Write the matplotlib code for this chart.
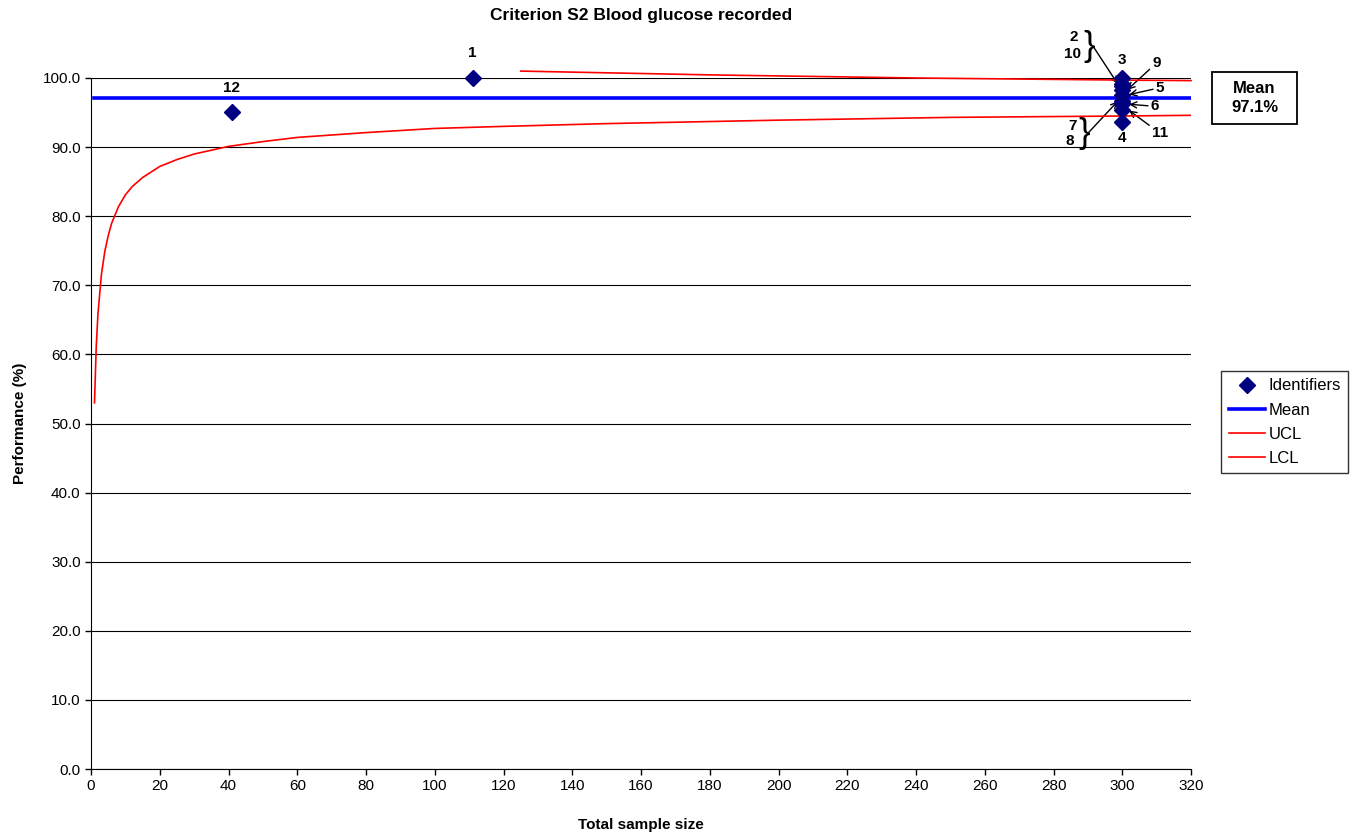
import matplotlib
matplotlib.use('Agg')
import matplotlib.pyplot as plt

plt.rcParams['font.family'] = ['Liberation Sans', 'DejaVu Sans']

# identifiers, sample sizes and performance (%)
ids = ['1', '2', '3', '4', '5', '6', '7', '8', '9', '10', '11', '12']
sample_size = [111, 300, 300, 300, 300, 300, 300, 300, 300, 300, 300, 41]
performance = [100.0, 99.1, 100.0, 93.7, 97.6, 96.2, 96.7, 96.4, 98.2, 98.8, 95.3, 95.1]

mean_value = 97.1
mean_n = [1, 320]

# control limits
lcl_n = [1, 1.5, 2, 3, 4, 5, 6, 8, 10, 12, 15, 20, 25, 30, 40, 50, 60, 80,
         100, 120, 150, 200, 250, 300, 320]
lcl = [53.0, 61.0, 65.8, 71.5, 74.9, 77.2, 79.0, 81.4, 83.1, 84.3, 85.6, 87.2,
       88.2, 89.0, 90.1, 90.8, 91.4, 92.1, 92.7, 93.0, 93.4, 93.9, 94.3, 94.5, 94.6]
ucl_n = [125, 140, 160, 180, 200, 220, 240, 260, 280, 300, 320]
ucl = [101.0, 100.85, 100.65, 100.45, 100.3, 100.15, 100.0, 99.9, 99.8, 99.7, 99.62]

fig = plt.figure(figsize=(13.59, 8.36), dpi=100)
ax = fig.add_axes([0.067, 0.0801, 0.8094, 0.8266])

ax.plot(sample_size, performance, 'D', color='#000080', markersize=8,
        label='Identifiers', zorder=5, clip_on=False)
ax.plot(mean_n, [mean_value, mean_value], color='#0000ff', lw=2.6, label='Mean', zorder=3)
ax.plot(ucl_n, ucl, color='#ff0000', lw=1.2, label='UCL', clip_on=False, zorder=4)
ax.plot(lcl_n, lcl, color='#ff0000', lw=1.2, label='LCL', zorder=4)

ax.set_xlim(0, 320)
ax.set_ylim(0, 100)
ax.set_xticks(range(0, 321, 20))
ax.set_yticks(range(0, 101, 10))
ax.set_yticklabels(['%.1f' % v for v in range(0, 101, 10)])
ax.tick_params(labelsize=11, direction='out', length=4, width=1)
ax.yaxis.grid(True, color='black', lw=0.8)
ax.set_axisbelow(True)
for s in ['top', 'right']:
    ax.spines[s].set_visible(False)

ax.set_title('Criterion S2 Blood glucose recorded', fontsize=12.5, fontweight='bold', pad=42)
ax.set_xlabel('Total sample size', fontsize=11, fontweight='bold', labelpad=18)
ax.set_ylabel('Performance (%)', fontsize=11, fontweight='bold', labelpad=11)

lab = dict(fontsize=11, fontweight='bold', ha='center', va='center')
# simple labels straight above/below
ax.text(111, 103.6, '1', **lab)
ax.text(41, 98.6, '12', **lab)
ax.text(300, 102.6, '3', **lab)
ax.text(300, 91.3, '4', **lab)

arrow = dict(arrowstyle='->', color='black', lw=1.0, shrinkA=0, shrinkB=0)
ax.annotate('9', xy=(301.5, 98.3), xytext=(310.0, 102.2), arrowprops=arrow,
            annotation_clip=False, **lab)
ax.annotate('5', xy=(302.0, 97.6), xytext=(311.0, 98.6), arrowprops=arrow,
            annotation_clip=False, **lab)
ax.annotate('6', xy=(302.0, 96.2), xytext=(309.5, 95.9), arrowprops=arrow,
            annotation_clip=False, **lab)
ax.annotate('11', xy=(302.0, 95.3), xytext=(311.0, 92.0), arrowprops=arrow,
            annotation_clip=False, **lab)

# grouped labels with braces
brace = dict(fontsize=25, ha='center', va='center', family='Liberation Sans')
ax.text(286.0, 105.9, '2', **lab)
ax.text(285.4, 103.5, '10', **lab)
ax.text(290.3, 104.6, '}', **brace)
ax.annotate('', xy=(298.6, 99.2), xytext=(291.5, 104.6), arrowprops=arrow,
            annotation_clip=False)
ax.text(285.4, 93.1, '7', **lab)
ax.text(284.8, 90.9, '8', **lab)
ax.text(288.8, 92.0, '}', **brace)
ax.annotate('', xy=(298.6, 96.6), xytext=(290.0, 92.0), arrowprops=arrow,
            annotation_clip=False)

# mean box
fig.patches.append(plt.Rectangle((1212 / 1359, 1 - 124 / 836), 85 / 1359, 52 / 836,
                                 transform=fig.transFigure, fc='white', ec='black', lw=1.3))
fig.text(1254.5 / 1359, 1 - 98 / 836, 'Mean\n%.1f%%' % mean_value, fontsize=12,
         fontweight='bold', ha='center', va='center', linespacing=1.35)

leg = ax.legend(loc='upper left', bbox_to_anchor=(1.0273, 0.576), fontsize=12,
                frameon=True, fancybox=False, edgecolor='black', borderpad=0.45,
                borderaxespad=0, handlelength=2.2, handletextpad=0.2, labelspacing=0.55)
leg.get_frame().set_linewidth(1.0)

fig.savefig('out.png', dpi=100)
